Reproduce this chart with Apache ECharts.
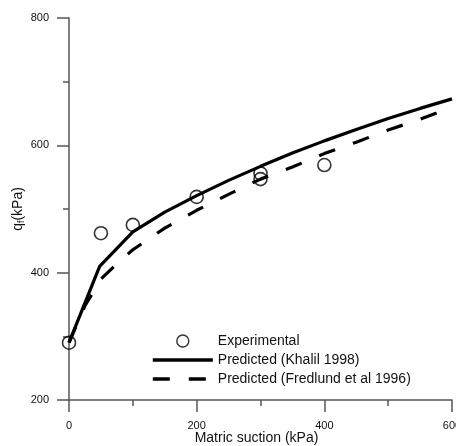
<!DOCTYPE html>
<html>
<head>
<meta charset="utf-8">
<script src="https://cdn.jsdelivr.net/npm/echarts@6/dist/echarts.min.js"></script>
<style>html,body{margin:0;padding:0;background:#fff;}#c{width:456px;height:446px;}</style>
</head>
<body>
<div id="c"></div>
<script>
// Experimental points
const expX = [0, 50, 100, 200, 300, 300, 400];
const expY = [290, 462, 475, 519, 556, 547, 569];
// Predicted (Khalil 1998)
const khalilX = [0, 48, 100, 150, 200, 250, 300, 350, 400, 450, 500, 550, 600];
const khalilY = [290, 410, 464, 495, 521, 545, 567, 588, 607, 625, 642, 658, 673];
// Predicted (Fredlund et al 1996)
const fredX = [0, 25, 50, 75, 100, 150, 200, 250, 300, 350, 400, 450, 500, 550, 600];
const fredY = [290, 348, 390, 414, 436, 470, 498, 523, 547, 566, 587, 605, 624, 641, 660];
const xTicks = [0, 200, 400, 600];
const yTicks = [200, 400, 600, 800];

const zip = (a, b) => a.map((v, i) => [v, b[i]]);
const FONT = '"Liberation Sans", Arial, sans-serif';
const AX = '#555';

const chart = echarts.init(document.getElementById('c'), null, {renderer: 'canvas'});
chart.setOption({
  animation: false,
  backgroundColor: '#fff',
  grid: {left: 69, right: 4, top: 18, bottom: 46, containLabel: false, outerBoundsMode: 'none'},
  xAxis: {
    type: 'value', min: xTicks[0], max: xTicks[xTicks.length - 1], interval: 200,
    name: 'Matric suction (kPa)', nameLocation: 'middle', nameGap: 31, nameMoveOverlap: false,
    nameTextStyle: {fontFamily: FONT, fontSize: 14, color: '#111', padding: [0, 8, 0, 0]},
    axisLine: {show: true, onZero: false, lineStyle: {color: AX, width: 1.5}},
    axisTick: {show: true, inside: false, length: 12, lineStyle: {color: AX, width: 1.5}},
    minorTick: {show: true, splitNumber: 2, length: 6, lineStyle: {color: AX, width: 1.5}},
    axisLabel: {fontFamily: FONT, fontSize: 11, color: '#111', margin: 20},
    splitLine: {show: false}
  },
  yAxis: {
    type: 'value', min: yTicks[0], max: yTicks[yTicks.length - 1], interval: 200,
    name: '{a|q}{b|f}{a|(kPa)}', nameLocation: 'middle', nameGap: 43, nameMoveOverlap: false,
    nameTextStyle: {
      fontFamily: FONT, color: '#111',
      rich: {a: {fontFamily: FONT, fontSize: 14, color: '#111'},
             b: {fontFamily: FONT, fontSize: 9, color: '#111', verticalAlign: 'bottom', padding: [7, 0, 0, 0]}}
    },
    axisLine: {show: true, onZero: false, lineStyle: {color: AX, width: 1.5}},
    axisTick: {show: true, inside: false, length: 12, lineStyle: {color: AX, width: 1.5}},
    minorTick: {show: true, splitNumber: 2, length: 6, lineStyle: {color: AX, width: 1.5}},
    axisLabel: {fontFamily: FONT, fontSize: 11, color: '#111', margin: 20},
    splitLine: {show: false}
  },
  legend: {
    orient: 'vertical', left: 151, top: 334, padding: 0,
    itemWidth: 60, itemHeight: 12, itemGap: 5,
    lineStyle: {width: 3.6},
    textStyle: {fontFamily: FONT, fontSize: 14, color: '#111', lineHeight: 14},
    data: [
      {name: 'Experimental', itemStyle: {borderWidth: 1.4}},
      {name: 'Predicted (Khalil 1998)', itemStyle: {opacity: 0}},
      {name: 'Predicted (Fredlund et al 1996)', itemStyle: {opacity: 0}}
    ]
  },
  series: [
    {
      name: 'Predicted (Khalil 1998)', type: 'line', data: zip(khalilX, khalilY),
      symbol: 'none', smooth: false, clip: false,
      lineStyle: {color: '#000', width: 3.2}, itemStyle: {color: '#000'}, z: 3
    },
    {
      name: 'Predicted (Fredlund et al 1996)', type: 'line', data: zip(fredX, fredY),
      symbol: 'none', smooth: false, clip: false,
      lineStyle: {color: '#000', width: 3.2, type: [17, 19]}, itemStyle: {color: '#000'}, z: 3
    },
    {
      name: 'Experimental', type: 'scatter', data: zip(expX, expY),
      symbol: 'circle', symbolSize: 13, clip: false,
      itemStyle: {color: 'rgba(0,0,0,0)', borderColor: '#000', borderWidth: 1.6}, z: 4
    }
  ]
});
</script>
</body>
</html>
